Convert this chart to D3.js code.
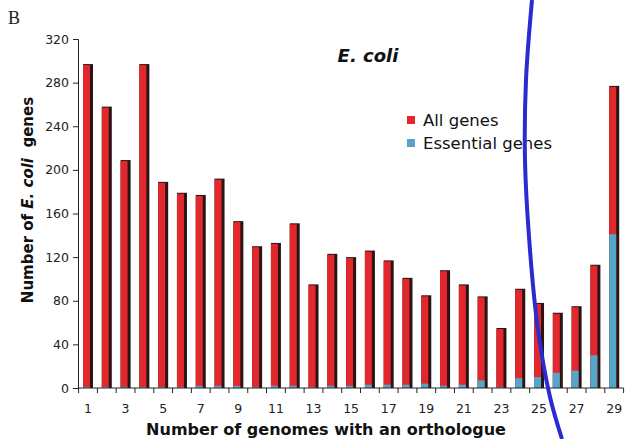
<!DOCTYPE html>
<head>
  <meta charset="utf-8">
  <script src="https://cdn.jsdelivr.net/npm/d3@7"></script>
  <style>
    body { margin:0; background:#fff; }
    text { font-family: "DejaVu Sans", Verdana, sans-serif; }
  </style>
</head>
<body>
<script>
  // values
  const genomes = d3.range(1, 30);
  const allGenes = [297, 258, 209, 297, 189, 179, 177, 192, 153, 130, 133, 151, 95, 123,
                    120, 126, 117, 101, 85, 108, 95, 84, 55, 91, 78, 69, 75, 113, 277];
  const essentialGenes = [1, 1, 1, 1, 1, 1, 2, 2, 2, 1, 2, 2, 1, 2,
                          2, 3, 3, 3, 4, 2, 3, 7, 1, 9, 10, 14, 16, 30, 141];
  const yTicks = [0, 40, 80, 120, 160, 200, 240, 280, 320];
  const xLabels = genomes.filter(d => d % 2 === 1);
  const seriesNames = ["All genes", "Essential genes"];

  const width = 628, height = 439;
  const red = "#e2282d", blue = "#55a5c9", shade = "#2a1414";

  const svg = d3.select("body").append("svg")
    .attr("width", width)
    .attr("height", height);

  const x = d3.scaleBand().domain(genomes).range([78.6, 623.6]);
  const y = d3.scaleLinear().domain([0, 320]).range([388, 39]);

  const barW = 10;
  const bx = d => x(d) + x.bandwidth() / 2 - barW / 2;

  // bars: dark shadow edge, then red body, then blue essential part
  const bars = svg.append("g");
  bars.selectAll(".shadow").data(genomes).enter().append("rect")
    .attr("x", bx)
    .attr("y", (d, i) => y(allGenes[i]))
    .attr("width", barW)
    .attr("height", (d, i) => y(0) - y(allGenes[i]))
    .style("fill", shade);
  bars.selectAll(".all").data(genomes).enter().append("rect")
    .attr("x", bx)
    .attr("y", (d, i) => y(allGenes[i]) + 1)
    .attr("width", barW - 3)
    .attr("height", (d, i) => y(0) - y(allGenes[i]) - 1)
    .style("fill", red);
  bars.selectAll(".ess").data(genomes).enter().append("rect")
    .attr("x", bx)
    .attr("y", (d, i) => y(essentialGenes[i]))
    .attr("width", barW - 3)
    .attr("height", (d, i) => y(0) - y(essentialGenes[i]))
    .style("fill", blue);

  // y axis
  const yAxis = svg.append("g")
    .attr("transform", "translate(78,0)")
    .call(d3.axisLeft(y).tickValues(yTicks).tickSize(5).tickPadding(4));
  yAxis.selectAll("text").style("font-size", "12.5px").style("fill", "#222");
  yAxis.selectAll("line, path").style("stroke", "#222");

  // x axis: ticks at band edges, labels at odd positions
  const xAxis = svg.append("g").attr("transform", "translate(0,388)");
  xAxis.append("line")
    .attr("x1", 78).attr("x2", 623.6)
    .style("stroke", "#222");
  xAxis.selectAll(".tk").data(genomes.concat([30])).enter().append("line")
    .attr("x1", d => d === 30 ? x(29) + x.bandwidth() : x(d))
    .attr("x2", d => d === 30 ? x(29) + x.bandwidth() : x(d))
    .attr("y1", 0).attr("y2", 5)
    .style("stroke", "#222");
  xAxis.selectAll(".lbl").data(xLabels).enter().append("text")
    .attr("x", d => x(d) + x.bandwidth() / 2)
    .attr("y", 25)
    .style("text-anchor", "middle")
    .style("font-size", "12.5px")
    .style("fill", "#222")
    .text(d => d);

  // titles
  svg.append("text")
    .attr("x", 368).attr("y", 62)
    .style("text-anchor", "middle")
    .style("font-size", "18px")
    .style("font-weight", "bold")
    .style("font-style", "italic")
    .style("fill", "#111")
    .text("E. coli");

  svg.append("text")
    .attr("x", 8).attr("y", 24)
    .style("font-family", "'Liberation Serif', serif")
    .style("font-size", "18px")
    .style("fill", "#222")
    .text("B");

  svg.append("text")
    .attr("x", 326).attr("y", 435)
    .style("text-anchor", "middle")
    .style("font-size", "16px")
    .style("font-weight", "bold")
    .style("fill", "#111")
    .text("Number of genomes with an orthologue");

  const yl = svg.append("text")
    .attr("transform", "translate(33,200) rotate(-90)")
    .style("text-anchor", "middle")
    .style("font-size", "15px")
    .style("font-weight", "bold")
    .style("fill", "#111");
  yl.append("tspan").text("Number of ");
  yl.append("tspan").style("font-style", "italic").text("E. coli");
  yl.append("tspan").text("\u00a0 genes");

  // legend
  const legend = svg.selectAll(".legend").data(seriesNames).enter().append("g")
    .attr("transform", (d, i) => "translate(407," + (116 + i * 23) + ")");
  legend.append("rect")
    .attr("width", 8).attr("height", 8)
    .style("fill", (d, i) => i === 0 ? red : blue);
  legend.append("text")
    .attr("x", 16).attr("y", 10)
    .style("font-size", "16.5px")
    .style("fill", "#111")
    .text(d => d);

  // hand drawn blue stroke over the figure
  const stroke = [[532, 0], [526, 80], [525, 160], [530, 250], [538, 330], [550, 397], [562, 439]];
  svg.append("path")
    .attr("d", d3.line().curve(d3.curveCatmullRom)(stroke))
    .style("fill", "none")
    .style("stroke", "#2b2bd1")
    .style("stroke-width", 4);
</script>
</body>
